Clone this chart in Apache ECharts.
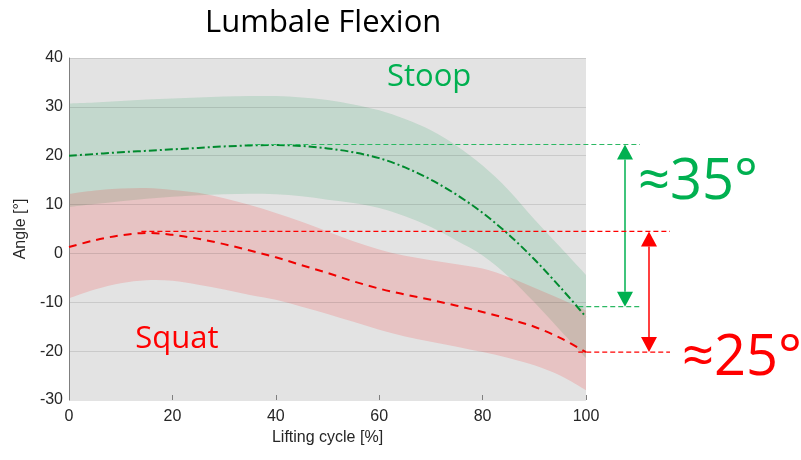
<!DOCTYPE html>
<html><head><meta charset="utf-8">
<script src="https://cdn.jsdelivr.net/npm/echarts@6/dist/echarts.min.js"></script>
<style>html,body{margin:0;padding:0;background:#fff}#c{width:801px;height:460px}</style>
</head><body><div id="c"></div>
<script>
const cycle = [0,5,10,15,20,25,30,35,40,45,50,55,60,65,70,75,80,85,90,95,100];
const stoopMean  = [20.0,20.35,20.7,21.0,21.3,21.6,21.9,22.1,22.2,22.0,21.5,20.7,19.5,17.6,15.1,12.0,8.3,3.9,-1.2,-6.9,-13.0];
const stoopUpper = [30.7,30.9,31.2,31.5,31.7,31.9,32.1,32.2,32.2,31.9,31.4,30.5,29.3,27.5,25.2,22.0,18.0,13.0,7.0,1.3,-4.4];
const stoopLower = [9.5,10.1,10.7,11.2,11.6,11.9,12.1,12.2,12.1,11.7,11.0,10.3,9.3,7.6,5.4,2.6,-0.4,-4.7,-10.0,-15.7,-21.4];
const squatMean  = [1.3,2.7,3.7,4.2,3.8,3.0,1.9,0.6,-0.8,-2.4,-4.0,-5.7,-7.2,-8.4,-9.5,-10.7,-12.0,-13.4,-15.0,-17.3,-20.2];
const squatUpper = [12.2,12.9,13.3,13.4,13.0,12.4,11.3,9.9,8.3,6.5,4.5,2.5,0.8,-0.5,-1.4,-2.2,-3.1,-4.8,-7.0,-9.3,-11.7];
const squatLower = [-9.2,-7.4,-6.1,-5.5,-5.6,-6.4,-7.4,-8.5,-9.5,-10.9,-12.4,-14.0,-15.6,-17.0,-18.1,-19.1,-20.2,-21.4,-22.9,-25.0,-28.0];
const xTicks = [0,20,40,60,80,100];
const yTicks = [-30,-20,-10,0,10,20,30,40];
// annotation levels (deg) and start positions (cycle %)
const stoopRange = [22.3, -10.9];
const squatRange = [4.5, -20.2];
const stoopLineStart = [34.5, 98.5];
const squatLineStart = [14, 98.5];
const labels = {title:'Lumbale Flexion', stoop:'Stoop', squat:'Squat', stoopDiff:'≈35°', squatDiff:'≈25°', xName:'Lifting cycle [%]', yName:'Angle [°]'};

const GREEN = '#00b050', RED = '#ff0000';

// Catmull-Rom -> cubic bezier path through pixel points
function curvePath(pts, moveFirst){
  let d = (moveFirst ? 'M' : 'L') + pts[0][0] + ' ' + pts[0][1];
  for (let i = 0; i < pts.length - 1; i++){
    const p0 = pts[Math.max(i-1,0)], p1 = pts[i], p2 = pts[i+1], p3 = pts[Math.min(i+2, pts.length-1)];
    const c1 = [p1[0] + (p2[0]-p0[0])/6, p1[1] + (p2[1]-p0[1])/6];
    const c2 = [p2[0] - (p3[0]-p1[0])/6, p2[1] - (p3[1]-p1[1])/6];
    d += 'C' + c1[0] + ' ' + c1[1] + ' ' + c2[0] + ' ' + c2[1] + ' ' + p2[0] + ' ' + p2[1];
  }
  return d;
}
function bandSeries(upper, lower, color){
  return {type:'custom', silent:true, z:2, data:[[0,0]],
    renderItem:function(params, api){
      const up = cycle.map((x,i)=>api.coord([x, upper[i]]));
      const lo = cycle.map((x,i)=>api.coord([x, lower[i]])).reverse();
      const d = curvePath(up, true) + curvePath(lo, false) + 'Z';
      return {type:'path', shape:{pathData:d}, style:{fill:color}};
    }};
}
function meanSeries(values, color, dash){
  return {type:'custom', silent:true, z:6, data:[[0,0]],
    renderItem:function(params, api){
      const pts = cycle.map((x,i)=>api.coord([x, values[i]]));
      return {type:'path', shape:{pathData:curvePath(pts, true)},
        style:{fill:null, stroke:color, lineWidth:2, lineDash:dash}};
    }};
}

const chart = echarts.init(document.getElementById('c'), null, {renderer:'canvas'});
const option = {
  animation:false,
  title:{text:labels.title, left:200, top:3, textStyle:{fontFamily:'Open Sans', fontSize:31, fontWeight:'normal', color:'#000'}},
  grid:{left:69, right:215, top:58, bottom:60, show:true, backgroundColor:'#e3e3e3', borderWidth:0},
  xAxis:{type:'value', min:0, max:100, interval:20, z:5,
    name:labels.xName, nameLocation:'middle', nameGap:30,
    nameTextStyle:{fontFamily:'Liberation Sans', fontSize:16, color:'#262626'},
    axisLine:{show:false, onZero:false}, axisTick:{show:true, inside:true, length:5, lineStyle:{color:'#7f7f7f'}},
    axisLabel:{fontFamily:'Liberation Sans', fontSize:16, color:'#262626', margin:9},
    splitLine:{show:false}},
  yAxis:{type:'value', min:-30, max:40, interval:10, z:5,
    name:labels.yName, nameLocation:'middle', nameGap:35, nameRotate:90,
    nameTextStyle:{fontFamily:'Liberation Sans', fontSize:16, color:'#262626'},
    axisLine:{show:true, onZero:false, lineStyle:{color:'#7f7f7f', width:1}}, axisTick:{show:false},
    axisLabel:{fontFamily:'Liberation Sans', fontSize:16, color:'#262626', margin:6},
    splitLine:{show:true, lineStyle:{color:'rgba(0,0,0,0.11)', width:1}}},
  series:[
    bandSeries(stoopUpper, stoopLower, 'rgba(0,150,70,0.14)'),
    bandSeries(squatUpper, squatLower, 'rgba(255,0,0,0.14)'),
    meanSeries(stoopMean, '#008a2e', [8,3,2,3]),
    meanSeries(squatMean, '#f00000', [8,6])
  ]
};
chart.setOption(option);

const px = v => chart.convertToPixel({xAxisIndex:0}, v);
const py = v => chart.convertToPixel({yAxisIndex:0}, v);
const right = px(100);
const g = [];
let gid = 0;
function hdash(x1, x2, y, color){
  g.push({type:'polyline', id:'d'+(gid++), z:10, shape:{points:[[x1,y],[x2,y]]}, style:{fill:null, stroke:color, lineWidth:1.2, lineDash:[5,3]}});
}
function arrow(x, yTop, yBot, color){
  const hw = 8, hh = 15;
  g.push({type:'polyline', id:'a'+(gid++), z:10, shape:{points:[[x,yTop+hh],[x,yBot-hh]]}, style:{fill:null, stroke:color, lineWidth:1.5}});
  g.push({type:'polygon', id:'a'+(gid++), z:10, shape:{points:[[x,yTop],[x-hw,yTop+hh],[x+hw,yTop+hh]]}, style:{fill:color}});
  g.push({type:'polygon', id:'a'+(gid++), z:10, shape:{points:[[x,yBot],[x-hw,yBot-hh],[x+hw,yBot-hh]]}, style:{fill:color}});
}
// green
hdash(px(stoopLineStart[0]), right+54, py(stoopRange[0]), '#2cb863');
hdash(px(stoopLineStart[1]), right+54, py(stoopRange[1]), '#2cb863');
arrow(right+39, py(stoopRange[0]), py(stoopRange[1]), GREEN);
// red
hdash(px(squatLineStart[0]), right+84, py(squatRange[0]), RED);
hdash(px(squatLineStart[1]), right+84, py(squatRange[1]), RED);
arrow(right+63, py(squatRange[0]), py(squatRange[1]), RED);
// texts
g.push({type:'text', z:11, x:right+52, y:(py(stoopRange[0])+py(stoopRange[1]))/2 - 43,
  style:{text:labels.stoopDiff, fill:GREEN, font:'56px "Open Sans"', verticalAlign:'middle'}});
g.push({type:'text', z:11, x:right+96, y:py(squatRange[1]) + 7,
  style:{text:labels.squatDiff, fill:RED, font:'56px "Open Sans"', verticalAlign:'middle'}});
g.push({type:'text', z:11, x:px(61.5), y:py(36),
  style:{text:labels.stoop, fill:GREEN, font:'31px "Open Sans"', verticalAlign:'middle'}});
g.push({type:'text', z:11, x:px(12.8), y:py(-17.6),
  style:{text:labels.squat, fill:RED, font:'31px "Open Sans"', verticalAlign:'middle'}});
chart.setOption({graphic:g});
</script>
</body></html>
